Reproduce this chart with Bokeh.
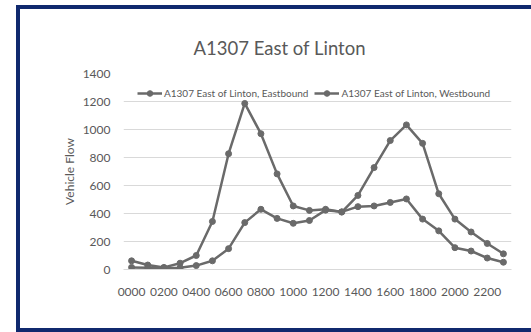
from bokeh.plotting import figure
from bokeh.models import Range1d, FixedTicker, Legend, LegendItem
from bokeh.embed import file_html
from bokeh.resources import INLINE

# ---- data ----
hour_labels = ["0000", "0100", "0200", "0300", "0400", "0500", "0600", "0700",
               "0800", "0900", "1000", "1100", "1200", "1300", "1400", "1500",
               "1600", "1700", "1800", "1900", "2000", "2100", "2200", "2300"]
eastbound = [62, 32, 15, 45, 100, 343, 827, 1186, 970, 683, 454, 422,
             430, 410, 529, 728, 921, 1033, 901, 541, 360, 268, 186, 112]
westbound = [15, 13, 10, 12, 28, 62, 149, 335, 430, 365, 330, 350,
             424, 412, 449, 454, 479, 504, 360, 276, 156, 132, 82, 52]
series_names = ["A1307 East of Linton, Eastbound", "A1307 East of Linton, Westbound"]
title_text = "A1307 East of Linton"
y_title = "Vehicle Flow"
y_ticks = [0, 200, 400, 600, 800, 1000, 1200, 1400]

hours = list(range(len(hour_labels)))

FONT = "Lato"
TXT = "#595959"
LINE = "#6a6a6a"
GRID = "#d9d9d9"
NAVY = "#10296e"

OX, OY, BW = 16, 5, 4
W, H = 531 - OX - BW, 332 - OY - 2 * BW
FL, FR, FT, FB = 123 - OX - BW, 507 - OX - BW, 73 - OY - BW, 261 - OY - BW
X0, X1 = -0.5, 23.5
Y0, Y1 = 0, 1400

p = figure(width=W, height=H, output_backend="svg", toolbar_location=None,
           x_range=Range1d(X0, X1), y_range=Range1d(Y0, Y1),
           min_border_left=FL, min_border_right=W - FR,
           min_border_top=FT, min_border_bottom=H - FB,
           background_fill_color="white", border_fill_color="white")
p.outline_line_color = None
p.styles = {"box-sizing": "content-box",
            "margin-left": f"{OX}px", "margin-top": f"{OY}px",
            "border-left": f"{BW}px solid {NAVY}",
            "border-top": f"{BW}px solid {NAVY}",
            "border-bottom": f"{BW}px solid {NAVY}"}

# title
p.title.text = title_text
p.title.align = "left"
p.title.offset = (193 - OX - BW) - FL
p.title.standoff = 30
p.title.text_font = FONT
p.title.text_font_size = "18.5px"
p.title.text_font_style = "normal"
p.title.text_color = TXT

# axes
p.xaxis.ticker = FixedTicker(ticks=hours[::2])
p.xaxis.major_label_overrides = {h: hour_labels[h] for h in hours}
p.xaxis.axis_line_color = GRID
p.xaxis.major_tick_line_color = None
p.xaxis.minor_tick_line_color = None
p.xaxis.major_tick_out = 0
p.xaxis.major_tick_in = 0
p.xaxis.major_label_standoff = 18
p.xaxis.major_label_text_font = FONT
p.xaxis.major_label_text_font_size = "12px"
p.xaxis.major_label_text_color = TXT

p.yaxis.ticker = FixedTicker(ticks=y_ticks)
p.yaxis.axis_line_color = None
p.yaxis.major_tick_line_color = None
p.yaxis.minor_tick_line_color = None
p.yaxis.major_tick_out = 0
p.yaxis.major_tick_in = 0
p.yaxis.major_label_standoff = 13
p.yaxis.major_label_text_font = FONT
p.yaxis.major_label_text_font_size = "12px"
p.yaxis.major_label_text_color = TXT
p.yaxis.axis_label = y_title
p.yaxis.axis_label_text_font = FONT
p.yaxis.axis_label_text_font_size = "12px"
p.yaxis.axis_label_text_font_style = "normal"
p.yaxis.axis_label_text_color = TXT
p.yaxis.axis_label_standoff = 3

p.xgrid.grid_line_color = None
p.ygrid.grid_line_color = GRID
p.ygrid.ticker = FixedTicker(ticks=y_ticks)

# series
renderers = []
for ys in (eastbound, westbound):
    l = p.line(hours, ys, line_color=LINE, line_width=2.5)
    s = p.scatter(hours, ys, size=6, fill_color=LINE, line_color=LINE)
    renderers.append([l, s])

# legend kept inside the plot frame (empty band above 1200) so it stays visible
legend = Legend(items=[LegendItem(label=n, renderers=r) for n, r in zip(series_names, renderers)],
                location=(14, (FB - FT) - 5 - 14), orientation="horizontal", nrows=1,
                padding=0, margin=0, spacing=6, label_standoff=2,
                glyph_width=25, glyph_height=14, label_height=14,
                border_line_color=None, background_fill_alpha=0,
                label_text_font=FONT, label_text_font_size="10px",
                label_text_color=TXT)
p.add_layout(legend)

open("out.html", "w").write(file_html(p, INLINE))
